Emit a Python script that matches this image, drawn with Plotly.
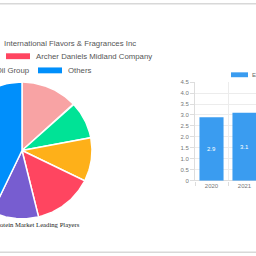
import numpy as np
import plotly.graph_objects as go

# ---- data ----
pie_labels = ["Cargill", "DuPont", "International Flavors & Fragrances Inc",
              "Archer Daniels Midland Company", "Fuji Oil Group", "Others"]
pie_values = [13.1, 8.9, 10.3, 13.9, 10.8, 43.0]
pie_colors = ["#F8A3A4", "#00E396", "#FEB019", "#FF4560", "#775DD0", "#008FFB"]

bar_years = ["2020", "2021"]
bar_values = [2.9, 3.1]
bar_name = "Earnings"
y_tickvals = [0, 0.5, 1.0, 1.5, 2.0, 2.5, 3.0, 3.5, 4.0, 4.5]
y_ticktext = ["0", "0.5", "1.0", "1.5", "2.0", "2.5", "3.0", "3.5", "4.0", "4.5"]

pie_title = "Soy Protein Market Leading Players"

W = H = 256
def X(p): return p / W
def Y(p): return 1 - p / H

fig = go.Figure()

# ---- pie drawn on a pixel-scaled cartesian axis ----
cx, cy, R = 22, 151, 70
total = sum(pie_values)
start = 0.0
for lab, val, col in zip(pie_labels, pie_values, pie_colors):
    a0 = start / total * 2 * np.pi
    a1 = (start + val) / total * 2 * np.pi
    th = np.linspace(a0, a1, 60)
    xs = np.concatenate([[cx], cx + R * np.sin(th), [cx]])
    ys = np.concatenate([[cy], cy - R * np.cos(th), [cy]])
    fig.add_trace(go.Scatter(x=xs, y=ys, fill="toself", fillcolor=col,
                             mode="lines", line=dict(color="white", width=1.5),
                             name=lab, showlegend=False, hoverinfo="name",
                             xaxis="x", yaxis="y"))
    start += val

# ---- bar chart ----
fig.add_trace(go.Bar(x=bar_years, y=bar_values, name=bar_name,
                     marker=dict(color="#3a9cf0", line=dict(color="#3a9cf0", width=0)),
                     width=0.73, texttemplate="%{y}", textposition="inside",
                     insidetextanchor="middle",
                     textfont=dict(color="white", size=6, family="Liberation Sans"),
                     showlegend=False, xaxis="x2", yaxis="y2"))

shapes = []
annotations = []

# pie legend (manual, clipped by page like the original)
leg_font = dict(family="Liberation Sans", size=7.8, color="#555555")
# row 1
shapes.append(dict(type="rect", xref="paper", yref="paper", x0=X(-26), x1=X(-2),
                   y0=Y(44), y1=Y(38), fillcolor=pie_colors[2], line_width=0))
annotations.append(dict(text=pie_labels[2], x=X(2), y=Y(41), xref="paper", yref="paper",
                        xanchor="left", yanchor="middle", showarrow=False, font=leg_font))
# row 2
shapes.append(dict(type="rect", xref="paper", yref="paper", x0=X(6), x1=X(30),
                   y0=Y(57.5), y1=Y(51.5), fillcolor=pie_colors[3], line_width=0))
annotations.append(dict(text=pie_labels[3], x=X(34), y=Y(54.5), xref="paper", yref="paper",
                        xanchor="left", yanchor="middle", showarrow=False, font=leg_font))
# row 3
annotations.append(dict(text=pie_labels[4], x=X(32), y=Y(69), xref="paper", yref="paper",
                        xanchor="right", yanchor="middle", showarrow=False, font=leg_font))
shapes.append(dict(type="rect", xref="paper", yref="paper", x0=X(38), x1=X(62),
                   y0=Y(72), y1=Y(66), fillcolor=pie_colors[5], line_width=0))
annotations.append(dict(text=pie_labels[5], x=X(66), y=Y(69), xref="paper", yref="paper",
                        xanchor="left", yanchor="middle", showarrow=False, font=leg_font))

# pie title
annotations.append(dict(text=pie_title, x=X(82), y=Y(227), xref="paper", yref="paper",
                        xanchor="right", yanchor="middle", showarrow=False,
                        font=dict(family="Liberation Serif", size=6.7, color="#222222")))

# bar legend
shapes.append(dict(type="rect", xref="paper", yref="paper", x0=X(231), x1=X(248),
                   y0=Y(76), y1=Y(71), fillcolor="#3a9cf0", line_width=0))
annotations.append(dict(text=bar_name, x=X(250), y=Y(73.5), xref="paper", yref="paper",
                        xanchor="left", yanchor="middle", showarrow=False,
                        font=dict(family="Liberation Sans", size=6, color="#666666")))

# page border lines
shapes.append(dict(type="line", xref="paper", yref="paper", x0=0, x1=1, y0=Y(0.7), y1=Y(0.7),
                   line=dict(color="#d8d8d8", width=1.5)))
shapes.append(dict(type="line", xref="paper", yref="paper", x0=0, x1=1, y0=Y(255.3), y1=Y(255.3),
                   line=dict(color="#d8d8d8", width=1.5)))

tickfont = dict(family="Liberation Sans", size=6, color="#777777")

fig.update_layout(
    width=W, height=H, margin=dict(l=0, r=0, t=0, b=0),
    paper_bgcolor="white", plot_bgcolor="rgba(0,0,0,0)",
    showlegend=False,
    xaxis=dict(domain=[0, 1], range=[0, W], visible=False, fixedrange=True),
    yaxis=dict(domain=[0, 1], range=[H, 0], visible=False, fixedrange=True),
    xaxis2=dict(domain=[X(195), 1], anchor="y2", type="category",
                range=[-0.5, -0.5 + (256 - 195) / 33.0],
                tickson="boundaries", ticks="outside", ticklen=4, tickcolor="#dddddd",
                showgrid=True, gridcolor="#ececec", gridwidth=1,
                showline=False, zeroline=False, tickfont=tickfont),
    yaxis2=dict(domain=[Y(182), Y(81)], anchor="x2", range=[0, 4.5],
                tickvals=y_tickvals, ticktext=y_ticktext,
                ticks="outside", ticklen=4, tickcolor="#dddddd",
                showgrid=True, gridcolor="#ececec", gridwidth=1,
                showline=True, linecolor="#dddddd", linewidth=1,
                zeroline=True, zerolinecolor="#dddddd", zerolinewidth=1,
                tickfont=tickfont),
    shapes=shapes, annotations=annotations,
    bargap=0.27,
)

fig.write_html("out.html")
